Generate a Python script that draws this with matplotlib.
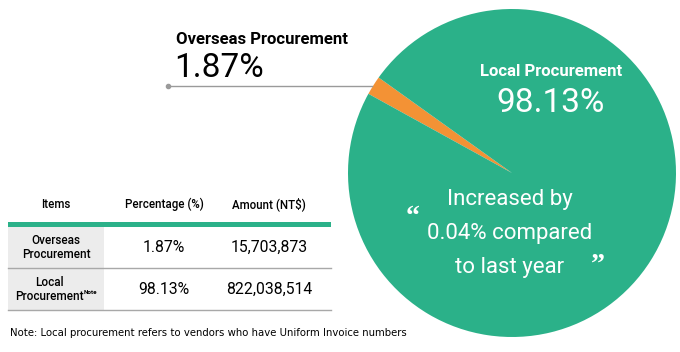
import numpy as np
import matplotlib
matplotlib.use("Agg")
import matplotlib.pyplot as plt
from matplotlib.patches import Rectangle

plt.rcParams.update({"font.family": ["Roboto", "DejaVu Sans"]})

# ---- data ----
CATS = ["Overseas Procurement", "Local Procurement"]
SHARE = [1.87, 98.13]
AMOUNT = ["15,703,873", "822,038,514"]
COLS = ["Items", "Percentage (%)", "Amount (NT$)"]
ROW_LABELS = ["Overseas\nProcurement", "Local\nProcurement"]
GREEN = "#2bb189"
ORANGE = "#f39235"

W, H = 680, 352
fig = plt.figure(figsize=(W / 100, H / 100), dpi=100)
ax = fig.add_axes([0, 0, 1, 1])


def Y(y):  # pixel row from top -> data y
    return H - y


# ---- pie ----
ax.pie(SHARE, colors=[ORANGE, GREEN], startangle=144.4, counterclock=True,
       center=(512, Y(173)), radius=164, frame=True,
       wedgeprops=dict(linewidth=0))
ax.set_xlim(0, W); ax.set_ylim(0, H); ax.axis("off")

# leader line for overseas
ax.plot([168, 372], [Y(86), Y(86)], color="#9a9a9a", lw=1)
ax.plot([168], [Y(86)], "o", color="#9a9a9a", ms=3)
ax.text(176, Y(40), CATS[0], fontsize=12, fontweight="bold", va="center", ha="left")
ax.text(174, Y(68), f"{SHARE[0]:.2f}%", fontsize=24, fontweight="normal", va="center", ha="left")

ax.text(551, Y(72), CATS[1], fontsize=12, fontweight="bold", color="white", va="center", ha="center")
ax.text(551, Y(103), f"{SHARE[1]:.2f}%", fontsize=24, fontweight="normal", color="white",
        va="center", ha="center")

for y, s in [(200, "Increased by"), (234, "0.04% compared"), (268, "to last year")]:
    ax.text(510, Y(y), s, fontsize=16, fontweight="normal", color="white", va="center", ha="center")
ax.text(413, Y(218), "\u201c", fontsize=20, fontweight="bold", family="Liberation Serif",
        color="white", va="center", ha="center")
ax.text(598, Y(265), "\u201d", fontsize=20, fontweight="bold", family="Liberation Serif",
        color="white", va="center", ha="center")

# ---- table ----
xl, xr = 8, 331
colx = [56, 164, 269]
ax.add_patch(Rectangle((xl, Y(310)), 96, 83, color="#ececec", lw=0))
ax.add_patch(Rectangle((xl, Y(227)), xr - xl, 5, color=GREEN, lw=0))
for y in (268, 310):
    ax.plot([xl, xr], [Y(y), Y(y)], color="#a8a8a8", lw=1)
for x, c in zip(colx, COLS):
    ax.text(x, Y(204), c, fontsize=8.3, fontweight="medium", ha="center", va="center")
for y, lab, p, a, lx in zip((247, 289), ROW_LABELS, SHARE, AMOUNT, (56, 49)):
    ax.text(lx, Y(y), lab, fontsize=8.5, fontweight="medium", ha="center", va="center",
            linespacing=1.1)
    ax.text(colx[1], Y(y), f"{p:.2f}%", fontsize=11.3, ha="center", va="center")
    ax.text(colx[2], Y(y), a, fontsize=11.3, ha="center", va="center")
ax.text(84, Y(292), "Note", fontsize=4.5, fontweight="bold", ha="left", va="center")

ax.text(10, Y(333), "Note: Local procurement refers to vendors who have Uniform Invoice numbers",
        fontsize=7.3, family="DejaVu Sans", ha="left", va="center")

fig.savefig("out.png", dpi=100)
